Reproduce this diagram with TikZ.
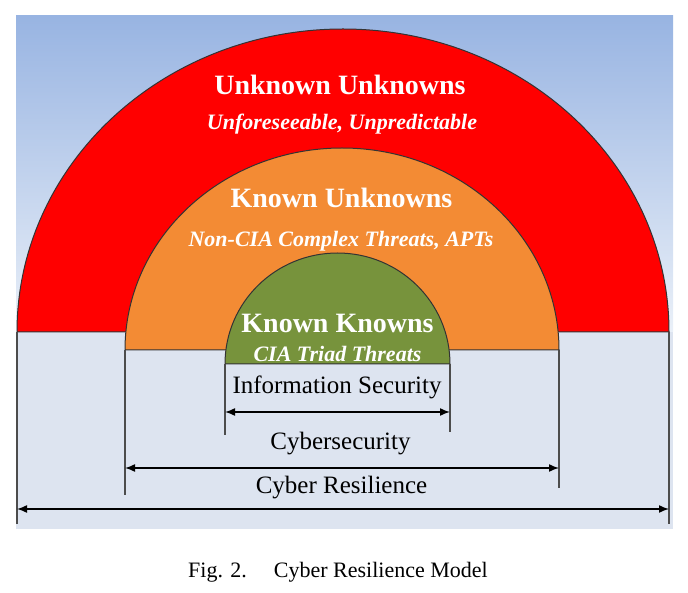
\documentclass[tikz,border=0pt]{standalone}
\usepackage{fontspec}
\setmainfont{Liberation Serif}
\usetikzlibrary{arrows.meta}
\definecolor{himmeloben}{HTML}{98B4E2}
\definecolor{himmelunten}{HTML}{EAF0F8}
\definecolor{boden}{HTML}{DDE4F0}
\definecolor{rot}{HTML}{FF0000}
\definecolor{orange}{HTML}{F38B34}
\definecolor{oliv}{HTML}{77933C}
\def\spanne#1#2{\draw[<->,line width=1.5pt] #1 -- #2;}
\def\kante#1#2{\draw[line width=1.3pt,black!70] #1 -- #2;}
\def\bogen#1#2#3#4{\filldraw[fill=#1,draw=black!80,line width=1pt] #2 arc[start angle=180,end angle=0,x radius=#3,y radius=#4] -- cycle;}

\begin{document}
\begin{tikzpicture}[>={Latex[length=10pt,width=8pt]},x=1pt,y=1pt]
\useasboundingbox (0,0) rectangle (688,592);
\tikzset{
  titel/.style={white,font=\bfseries\fontsize{28}{30}\selectfont},
  untertitel/.style={white,font=\bfseries\itshape\fontsize{22}{24}\selectfont},
  bereich/.style={black,font=\fontsize{25}{27}\selectfont}
}
% hintergrund
\fill[top color=himmeloben,bottom color=himmelunten] (16,260) rectangle (673,576);
\fill[boden] (16,63) rectangle (673,260);
% fusspunkte der boegen
\coordinate (R0) at (17,260);
\coordinate (R1) at (669,260);
\coordinate (O0) at (125,242);
\coordinate (O1) at (559,242);
\coordinate (G0) at (225,228);
\coordinate (G1) at (450,228);
\coordinate (R0u) at (17,68);
\coordinate (R1u) at (669,68);
\coordinate (O0u) at (125,97);
\coordinate (O1u) at (559,104);
\coordinate (G0u) at (225,157);
\coordinate (G1u) at (450,160);
% pfeilenden
\coordinate (PR0) at (17,83);
\coordinate (PR1) at (669,83);
\coordinate (PO0) at (125,124);
\coordinate (PO1) at (559,124);
\coordinate (PG0) at (225,180);
\coordinate (PG1) at (450,180);
\bogen{rot}{(R0)}{326pt}{303pt}
\bogen{orange}{(O0)}{217pt}{202pt}
\bogen{oliv}{(G0)}{112.5pt}{111pt}
\kante{(R0)}{(R0u)}
\kante{(R1)}{(R1u)}
\kante{(O0)}{(O0u)}
\kante{(O1)}{(O1u)}
\kante{(G0)}{(G0u)}
\kante{(G1)}{(G1u)}
\spanne{(PR0)}{(PR1)}
\spanne{(PO0)}{(PO1)}
\spanne{(PG0)}{(PG1)}
\node[titel] (uu) at (340,507) {Unknown Unknowns};
\node[untertitel] (uut) at (342,468) {Unforeseeable, Unpredictable};
\node[titel] (ku) at (341.5,394) {Known Unknowns};
\node[untertitel] (kut) at (341,351) {Non-CIA Complex Threats, APTs};
\node[titel] (kk) at (337.5,269) {Known Knowns};
\node[untertitel] (kkt) at (337.5,238) {CIA Triad Threats};
\node[bereich] (info) at (337,205) {Information Security};
\node[bereich] (cyber) at (340.5,148) {Cybersecurity};
\node[bereich] (resil) at (341.5,104) {Cyber Resilience};
\node[font=\fontsize{22}{24}\selectfont] (fig) at (338,20) {Fig. 2.\hspace{0.9em} Cyber Resilience Model};
\end{tikzpicture}
\end{document}
